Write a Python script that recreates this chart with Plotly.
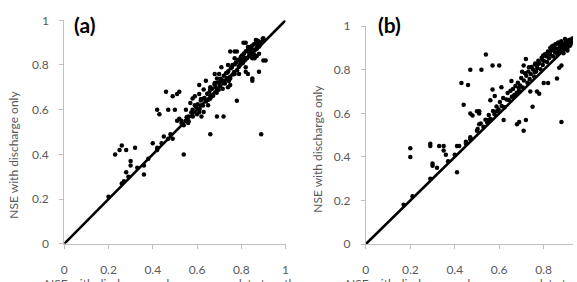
import plotly.graph_objects as go

# ---- data: panel (a) ----
a_x = [0.23,0.25,0.26,0.28,0.32,0.28,0.30,0.30,0.36,0.27,0.29,0.26,0.36,0.40,0.42,0.42,0.43,0.42,0.46,0.47,
       0.49,0.51,0.52,0.50,0.51,0.45,0.47,0.49,0.54,0.66,0.69,0.72,0.78,0.89,0.91,0.88,0.85,0.85,0.61,0.62,
       0.56,0.55,0.56,0.57,0.58,0.61,0.64,0.71,0.72,0.77,0.82,
       0.553,0.562,0.574,0.581,0.596,0.603,0.612,0.618,0.627,0.634,0.641,0.646,0.652,0.659,0.664,0.668,0.673,0.679,0.684,0.689,
       0.694,0.698,0.703,0.707,0.712,0.716,0.721,0.726,0.731,0.735,0.741,0.744,0.749,0.753,0.758,0.762,0.768,0.771,0.776,0.781,
       0.786,0.789,0.794,0.798,0.803,0.807,0.812,0.816,0.821,0.826,0.832,0.836,0.841,0.845,0.849,0.853,0.857,0.862,0.866,0.871,
       0.876,0.881,0.886,0.893,
       0.81,0.87,0.90,0.85,0.90,0.80,0.77,0.75,0.78,0.74,0.82,0.83,0.82,0.77,0.75,0.72,0.74,0.75,0.69,0.66,
       0.68,0.68,0.69,0.63,0.65,0.63,0.66,0.62,0.65,0.59,0.61,0.59,0.63,0.60,0.58,0.55,0.53,0.52,0.54,
       0.20,0.33,0.38,0.44,0.48,0.53,0.86,0.87,0.88,0.84,0.83,0.79,0.76,0.70,
       0.843,0.858,0.872,0.866,0.851,0.834,0.879,0.897,0.813,0.795,0.738,0.701,0.655,0.617]
a_y = [0.40,0.42,0.44,0.42,0.43,0.32,0.37,0.35,0.31,0.28,0.30,0.27,0.35,0.45,0.42,0.43,0.58,0.60,0.68,0.60,
       0.66,0.67,0.68,0.60,0.55,0.48,0.47,0.47,0.40,0.49,0.57,0.57,0.64,0.49,0.82,0.77,0.74,0.73,0.59,0.57,
       0.54,0.60,0.57,0.63,0.65,0.71,0.73,0.79,0.72,0.86,0.90,
       0.566,0.548,0.587,0.569,0.611,0.624,0.603,0.648,0.619,0.652,0.637,0.671,0.644,0.688,0.659,0.694,0.662,0.713,0.701,0.676,
       0.722,0.689,0.706,0.738,0.731,0.694,0.752,0.717,0.763,0.741,0.772,0.728,0.746,0.785,0.791,0.757,0.769,0.803,0.811,0.776,
       0.824,0.792,0.801,0.836,0.842,0.809,0.851,0.823,0.862,0.831,0.871,0.844,0.879,0.852,0.886,0.861,0.893,0.869,0.899,0.874,
       0.907,0.883,0.897,0.904,
       0.90,0.91,0.92,0.83,0.82,0.82,0.83,0.86,0.86,0.80,0.77,0.76,0.79,0.76,0.74,0.73,0.70,0.71,0.69,0.70,
       0.72,0.76,0.74,0.69,0.67,0.65,0.65,0.62,0.62,0.62,0.67,0.66,0.59,0.58,0.60,0.55,0.55,0.56,0.53,
       0.21,0.34,0.38,0.45,0.49,0.54,0.83,0.84,0.85,0.88,0.88,0.76,0.80,0.76,
       0.872,0.846,0.881,0.912,0.867,0.858,0.889,0.918,0.834,0.817,0.766,0.722,0.676,0.641]

# ---- data: panel (b) ----
b_x = [0.20,0.20,0.29,0.29,0.30,0.30,0.32,0.33,0.35,0.35,0.36,0.41,0.42,0.41,0.43,0.44,0.46,0.47,0.52,0.54,
       0.57,0.58,0.56,0.47,0.48,0.50,0.51,0.47,0.45,0.50,0.51,0.55,0.59,0.62,0.68,0.69,0.71,0.72,0.75,0.78,
       0.77,0.74,0.72,0.71,0.60,0.88,0.86,0.88,0.87,0.77,0.76,0.80,0.82,0.83,0.61,0.51,0.57,0.17,0.21,0.29,
       0.45,0.47,0.40,0.37,
       0.503,0.517,0.529,0.538,0.546,0.553,0.561,0.572,0.579,0.588,0.597,0.603,0.611,0.618,0.624,0.633,0.638,0.644,0.651,0.657,
       0.662,0.668,0.673,0.679,0.684,0.689,0.694,0.699,0.706,0.711,0.716,0.722,0.727,0.731,0.737,0.742,0.746,0.752,0.757,0.761,
       0.766,0.771,0.776,0.781,0.786,0.791,0.796,0.801,0.806,0.811,0.815,0.819,0.824,0.829,0.833,0.838,0.842,0.846,0.851,0.855,
       0.859,0.863,0.867,0.872,0.876,0.879,0.884,0.888,0.892,0.896,0.899,0.904,0.908,0.912,0.917,0.921,0.926,0.929,0.853,0.866,
       0.882,0.894,0.902,0.914,0.923,0.871,0.889,0.907,0.838,0.861,0.918,0.897,0.876,0.845,0.827,0.812,0.793,0.774,0.655,0.688,
       0.703,0.734,0.762,0.798]
b_y = [0.44,0.40,0.46,0.45,0.37,0.36,0.35,0.45,0.45,0.43,0.41,0.45,0.45,0.33,0.74,0.64,0.73,0.80,0.80,0.87,
       0.82,0.68,0.66,0.60,0.59,0.61,0.61,0.49,0.46,0.52,0.55,0.57,0.61,0.57,0.55,0.56,0.52,0.57,0.63,0.69,
       0.70,0.70,0.85,0.82,0.82,0.56,0.76,0.82,0.81,0.82,0.79,0.74,0.74,0.90,0.72,0.60,0.71,0.18,0.22,0.30,
       0.47,0.48,0.41,0.38,
       0.528,0.553,0.539,0.571,0.558,0.593,0.574,0.611,0.596,0.632,0.618,0.652,0.634,0.671,0.628,0.664,0.693,0.661,0.704,0.676,
       0.712,0.684,0.726,0.695,0.741,0.703,0.728,0.762,0.719,0.751,0.784,0.773,0.741,0.792,0.758,0.781,0.813,0.802,0.769,0.824,
       0.792,0.808,0.842,0.831,0.803,0.856,0.822,0.841,0.871,0.862,0.836,0.884,0.853,0.872,0.903,0.891,0.862,0.912,0.881,0.898,
       0.874,0.921,0.893,0.909,0.884,0.931,0.902,0.918,0.893,0.941,0.912,0.927,0.903,0.921,0.938,0.916,0.932,0.944,0.917,0.926,
       0.906,0.913,0.936,0.921,0.928,0.894,0.876,0.889,0.908,0.877,0.911,0.924,0.917,0.889,0.881,0.866,0.847,0.826,0.749,0.717,
       0.791,0.812,0.829,0.866]

line_x = [0, 1]
line_y = [0, 1]
tick_vals = [0, 0.2, 0.4, 0.6, 0.8, 1]
tick_text = ["0", "0.2", "0.4", "0.6", "0.8", "1"]
y_title = "NSE with discharge only"
x_title = "NSE with discharge and snow cover data together"
panel_labels = ["(a)", "(b)"]

W, H = 577, 282
FONT = "Lato, Open Sans, sans-serif"
GREY = "#595959"
AXC = "#bfbfbf"

fig = go.Figure()
for i, (xs, ys) in enumerate([(a_x, a_y), (b_x, b_y)]):
    sfx = "" if i == 0 else "2"
    fig.add_trace(go.Scatter(x=line_x, y=line_y, mode="lines", line=dict(color="black", width=2.6),
                             xaxis="x" + sfx, yaxis="y" + sfx, showlegend=False, hoverinfo="skip"))
    fig.add_trace(go.Scatter(x=xs, y=ys, mode="markers", marker=dict(color="black", size=4.5),
                             xaxis="x" + sfx, yaxis="y" + sfx, showlegend=False))

def px_x(p):
    return p / W

def px_y(p):
    return (H - p) / H

axis_common = dict(showgrid=False, zeroline=False, showline=True, linecolor=AXC, linewidth=1,
                   ticks="outside", ticklen=4, tickcolor=AXC, tickwidth=1,
                   tickvals=tick_vals, ticktext=tick_text,
                   tickfont=dict(family=FONT, size=12, color=GREY))

fig.update_layout(
    width=W, height=H, margin=dict(l=0, r=0, t=0, b=0),
    paper_bgcolor="white", plot_bgcolor="white",
    xaxis=dict(domain=[px_x(62), px_x(286)], range=[0, 1], anchor="y", ticklabelstandoff=11, **axis_common),
    yaxis=dict(domain=[px_y(249), px_y(13)], range=[0, 1], anchor="x", ticklabelstandoff=8, **axis_common),
    xaxis2=dict(domain=[px_x(367.3), 1.0], range=[0, (W - 367.3) / 225.0], anchor="y2", ticklabelstandoff=11, **axis_common),
    yaxis2=dict(domain=[px_y(249.3), px_y(19.3)], range=[0, 1], anchor="x2", ticklabelstandoff=8, **axis_common),
)

ann = []
ann.append(dict(text="<b>" + panel_labels[0] + "</b>", x=px_x(83), y=px_y(17.5), xref="paper", yref="paper",
                xanchor="center", yanchor="middle", showarrow=False, font=dict(family=FONT, size=21, color="black")))
ann.append(dict(text="<b>" + panel_labels[1] + "</b>", x=px_x(391.5), y=px_y(17), xref="paper", yref="paper",
                xanchor="center", yanchor="middle", showarrow=False, font=dict(family=FONT, size=21, color="black")))
for xc, yc in [(10.5, 154.5), (318, 148.5)]:
    ann.append(dict(text=y_title, x=px_x(xc), y=px_y(yc), xref="paper", yref="paper", textangle=-90,
                    xanchor="center", yanchor="middle", showarrow=False,
                    font=dict(family=FONT, size=12, color=GREY)))
# x titles (cut off at the bottom edge, as in the reference)
for xc in [175, 479.5]:
    ann.append(dict(text=x_title, x=px_x(xc), y=px_y(276), xref="paper", yref="paper",
                    xanchor="center", yanchor="top", yshift=-5, showarrow=False,
                    font=dict(family=FONT, size=12, color=GREY)))
fig.update_layout(annotations=ann)

fig.write_html("out.html")
